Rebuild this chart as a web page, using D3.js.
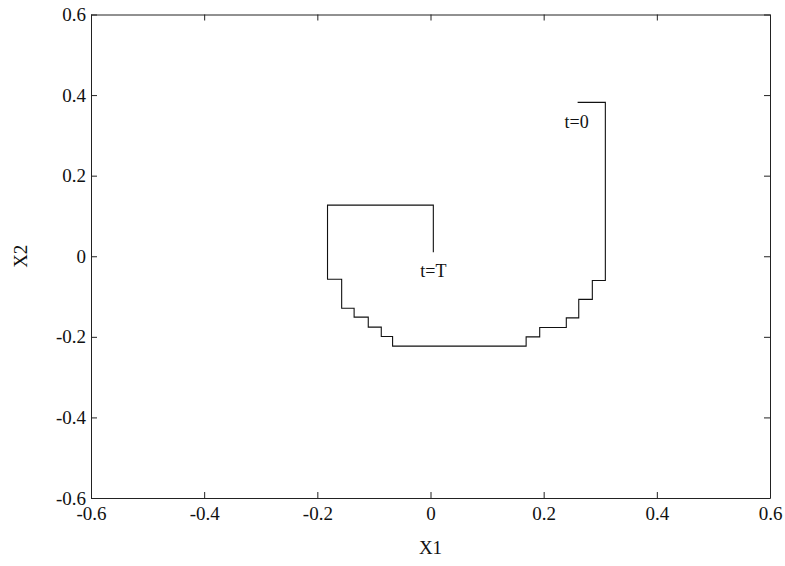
<!DOCTYPE html>
<html>
<head>
<meta charset="utf-8">
<script src="https://cdn.jsdelivr.net/npm/d3@7"></script>
<style>
  body { margin: 0; background: #fff; }
  .axis text { font-family: "Liberation Serif", serif; font-size: 19px; fill: #111; }
  .axis path, .axis line { stroke: #222; }
</style>
</head>
<body>
<div class="chart"></div>
<script>
// state trajectory (x1, x2), corners of the staircase, t=0 first
const x1Vals = [0.26, 0.309, 0.286, 0.262, 0.240, 0.193, 0.169, -0.067, -0.087, -0.110, -0.135, -0.157, -0.182, 0.005];
const x2Vals = [0.382, -0.060, -0.107, -0.153, -0.177, -0.200, -0.223, -0.199, -0.176, -0.151, -0.129, -0.057, 0.127, 0.010];
const tickVals = [-0.6, -0.4, -0.2, 0, 0.2, 0.4, 0.6];
const tickLabels = ['-0.6', '-0.4', '-0.2', '0', '0.2', '0.4', '0.6'];
const notes = [
  {text: 't=0', x1: 0.237, x2: 0.318},
  {text: 't=T', x1: -0.018, x2: -0.052}
];

const margin = ({top: 14.5, right: 15, bottom: 68, left: 91});
const width = 785 - margin.left - margin.right;
const height = 566 - margin.top - margin.bottom;

const svg = d3.select(".chart")
  .append("svg")
  .attr("width", width + margin.left + margin.right)
  .attr("height", height + margin.top + margin.bottom)
  .append("g")
  .attr("transform", "translate(" + margin.left + "," + margin.top + ")");

const xScale = d3.scaleLinear().domain([-0.6, 0.6]).range([0, width]);
const yScale = d3.scaleLinear().domain([-0.6, 0.6]).range([height, 0]);

const fmt = d => tickLabels[tickVals.indexOf(d)];

// axes, ticks pointing inward on all four sides
svg.append("g")
  .attr("class", "axis x-axis")
  .attr("transform", `translate(0, ${height})`)
  .call(d3.axisBottom(xScale).tickValues(tickVals).tickFormat(fmt)
    .tickSizeInner(-6).tickSizeOuter(0).tickPadding(9));

svg.append("g")
  .attr("class", "axis")
  .call(d3.axisTop(xScale).tickValues(tickVals).tickFormat("")
    .tickSizeInner(-6).tickSizeOuter(0));

svg.append("g")
  .attr("class", "axis y-axis")
  .call(d3.axisLeft(yScale).tickValues(tickVals).tickFormat(fmt)
    .tickSizeInner(-6).tickSizeOuter(0).tickPadding(5));

svg.append("g")
  .attr("class", "axis")
  .attr("transform", `translate(${width}, 0)`)
  .call(d3.axisRight(yScale).tickValues(tickVals).tickFormat("")
    .tickSizeInner(-6).tickSizeOuter(0));

// trajectory
const pts = x1Vals.map((v, i) => [v, x2Vals[i]]);
const line = d3.line()
  .x(d => xScale(d[0]))
  .y(d => yScale(d[1]))
  .curve(d3.curveStepAfter);

svg.append("path")
  .datum(pts)
  .attr("fill", "none")
  .attr("stroke", "#111")
  .attr("stroke-width", 1.1)
  .attr("d", line);

svg.selectAll(".note")
  .data(notes)
  .enter()
  .append("text")
  .attr("class", "note")
  .attr("x", d => xScale(d.x1))
  .attr("y", d => yScale(d.x2))
  .attr("font-family", "Liberation Serif, serif")
  .attr("font-size", "18px")
  .attr("fill", "#111")
  .text(d => d.text);

// axis titles
svg.append("text")
  .attr("x", width / 2)
  .attr("y", height + 56)
  .attr("font-family", "Liberation Serif, serif")
  .attr("font-size", "19px")
  .attr("fill", "#111")
  .style("text-anchor", "middle")
  .text("X1");

svg.append("text")
  .attr("transform", `translate(${-64}, ${yScale(0)}) rotate(-90)`)
  .attr("font-family", "Liberation Serif, serif")
  .attr("font-size", "19px")
  .attr("fill", "#111")
  .style("text-anchor", "middle")
  .text("X2");
</script>
</body>
</html>
